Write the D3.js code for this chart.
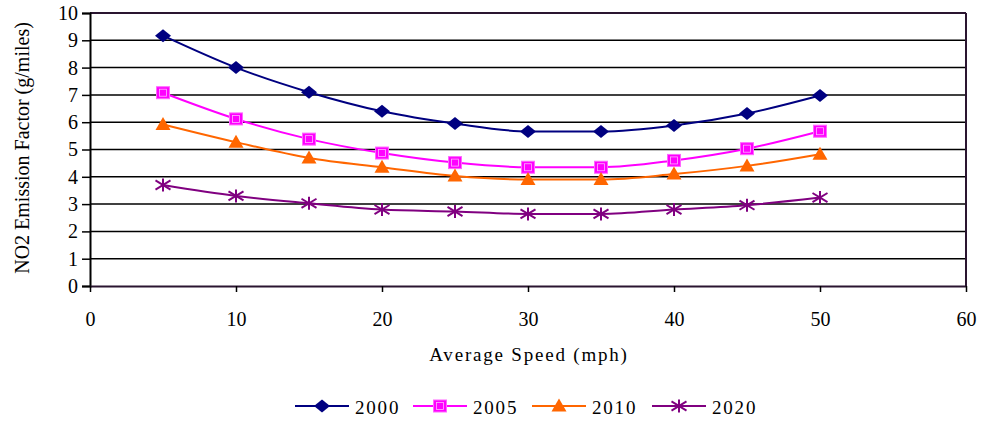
<!DOCTYPE html>
<html>
<head>
<meta charset="utf-8">
<script src="https://cdn.jsdelivr.net/npm/d3@7"></script>
<style>
  body { margin: 0; background: #fff; }
  text { font-family: "Liberation Serif", "Times New Roman", serif; fill: #000; }
</style>
</head>
<body>
<svg id="chart" width="981" height="423"></svg>
<script>
const speeds = [5, 10, 15, 20, 25, 30, 35, 40, 45, 50];
const ef2000 = [9.17, 8.0, 7.1, 6.4, 5.95, 5.66, 5.66, 5.88, 6.32, 6.98];
const ef2005 = [7.08, 6.12, 5.38, 4.87, 4.52, 4.35, 4.35, 4.6, 5.03, 5.67];
const ef2010 = [5.92, 5.27, 4.69, 4.35, 4.03, 3.9, 3.9, 4.1, 4.4, 4.83];
const ef2020 = [3.7, 3.3, 3.03, 2.8, 2.73, 2.64, 2.64, 2.8, 2.96, 3.24];
const xTicks = [0, 10, 20, 30, 40, 50, 60];
const yTicks = [0, 1, 2, 3, 4, 5, 6, 7, 8, 9, 10];

const series = [
  { name: "2000", values: ef2000, color: "#000080", marker: "diamond" },
  { name: "2005", values: ef2005, color: "#ff00ff", marker: "square" },
  { name: "2010", values: ef2010, color: "#ff6600", marker: "triangle" },
  { name: "2020", values: ef2020, color: "#800080", marker: "star" }
];

const svg = d3.select("#chart");
const pLeft = 90, pRight = 966, pTop = 13, pBottom = 286;

const x = d3.scaleLinear().domain([0, 60]).range([pLeft, pRight]);
const y = d3.scaleLinear().domain([0, 10]).range([pBottom, pTop]);

// grid lines
svg.append("g")
  .selectAll("line")
  .data(yTicks.slice(1, -1))
  .join("line")
  .attr("x1", pLeft).attr("x2", pRight)
  .attr("y1", d => y(d)).attr("y2", d => y(d))
  .attr("stroke", "#000").attr("stroke-width", 1.5);

// plot border
svg.append("line").attr("x1", pLeft).attr("x2", pRight).attr("y1", pTop).attr("y2", pTop)
  .attr("stroke", "#2a1530").attr("stroke-width", 2);
svg.append("line").attr("x1", pRight).attr("x2", pRight).attr("y1", pTop).attr("y2", pBottom)
  .attr("stroke", "#2a1530").attr("stroke-width", 2);

// y axis
const yAxis = svg.append("g")
  .attr("transform", `translate(${pLeft},0)`)
  .call(d3.axisLeft(y).tickValues(yTicks).tickSize(8).tickPadding(4).tickFormat(d3.format("d")));
yAxis.select(".domain").attr("stroke", "#000").attr("stroke-width", 2);
yAxis.selectAll(".tick line").attr("stroke", "#000").attr("stroke-width", 1.5);
yAxis.selectAll("text").style("font-size", "20px").attr("fill", "#000");

// x axis
const xAxis = svg.append("g")
  .attr("transform", `translate(0,${pBottom})`)
  .call(d3.axisBottom(x).tickValues(xTicks).tickSizeInner(6).tickSizeOuter(0).tickPadding(20));
xAxis.select(".domain").attr("stroke", "#2a1530").attr("stroke-width", 2);
xAxis.selectAll(".tick line").attr("stroke", "#000").attr("stroke-width", 1.5);
xAxis.selectAll("text").style("font-size", "20px").attr("fill", "#000");

// axis titles
svg.append("text")
  .attr("x", 529).attr("y", 361)
  .attr("text-anchor", "middle")
  .style("font-size", "19px").style("letter-spacing", "1.8px")
  .text("Average Speed (mph)");

svg.append("text")
  .attr("transform", `translate(29,148) rotate(-90)`)
  .attr("text-anchor", "middle")
  .style("font-size", "20px")
  .text("NO2 Emission Factor (g/miles)");

function drawMarker(g, type, color, cx, cy) {
  if (type === "diamond") {
    g.append("path").attr("d", `M${cx},${cy - 6.5}L${cx + 8},${cy}L${cx},${cy + 6.5}L${cx - 8},${cy}Z`)
      .attr("fill", color);
  } else if (type === "square") {
    g.append("rect").attr("x", cx - 6.5).attr("y", cy - 6).attr("width", 13).attr("height", 12)
      .attr("fill", color).attr("stroke", "#ff66ff").attr("stroke-width", 1);
    g.append("rect").attr("x", cx - 3.5).attr("y", cy - 3.5).attr("width", 7).attr("height", 7)
      .attr("fill", "none").attr("stroke", "#ffb0ff").attr("stroke-width", 0.8);
  } else if (type === "triangle") {
    g.append("path").attr("d", `M${cx},${cy - 7.5}L${cx + 7.5},${cy + 5.5}L${cx - 7.5},${cy + 5.5}Z`)
      .attr("fill", color);
  } else {
    const rx = 7.5, ry = 6.5;
    const star = g.append("g").attr("stroke", color).attr("stroke-width", 2);
    star.append("line").attr("x1", cx).attr("x2", cx).attr("y1", cy - ry).attr("y2", cy + ry);
    star.append("line").attr("x1", cx - rx).attr("x2", cx + rx).attr("y1", cy - ry * 0.7).attr("y2", cy + ry * 0.7);
    star.append("line").attr("x1", cx - rx).attr("x2", cx + rx).attr("y1", cy + ry * 0.7).attr("y2", cy - ry * 0.7);
  }
}

const line = d3.line()
  .x(d => x(d[0]))
  .y(d => y(d[1]))
  .curve(d3.curveMonotoneX);

series.forEach(s => {
  const pts = speeds.map((sp, i) => [sp, s.values[i]]);
  svg.append("path")
    .datum(pts)
    .attr("d", line)
    .attr("fill", "none")
    .attr("stroke", s.color)
    .attr("stroke-width", 2);
  const mg = svg.append("g");
  pts.forEach(p => drawMarker(mg, s.marker, s.color, x(p[0]), y(p[1])));
});

// legend
const legendX = [295, 413, 532, 652];
series.forEach((s, i) => {
  const lg = svg.append("g");
  const x0 = legendX[i];
  lg.append("line").attr("x1", x0).attr("x2", x0 + 54).attr("y1", 406).attr("y2", 406)
    .attr("stroke", s.color).attr("stroke-width", 2);
  drawMarker(lg, s.marker, s.color, x0 + 27, 406);
  lg.append("text").attr("x", x0 + 60).attr("y", 414)
    .style("font-size", "19px").style("letter-spacing", "1.8px")
    .text(s.name);
});
</script>
</body>
</html>
